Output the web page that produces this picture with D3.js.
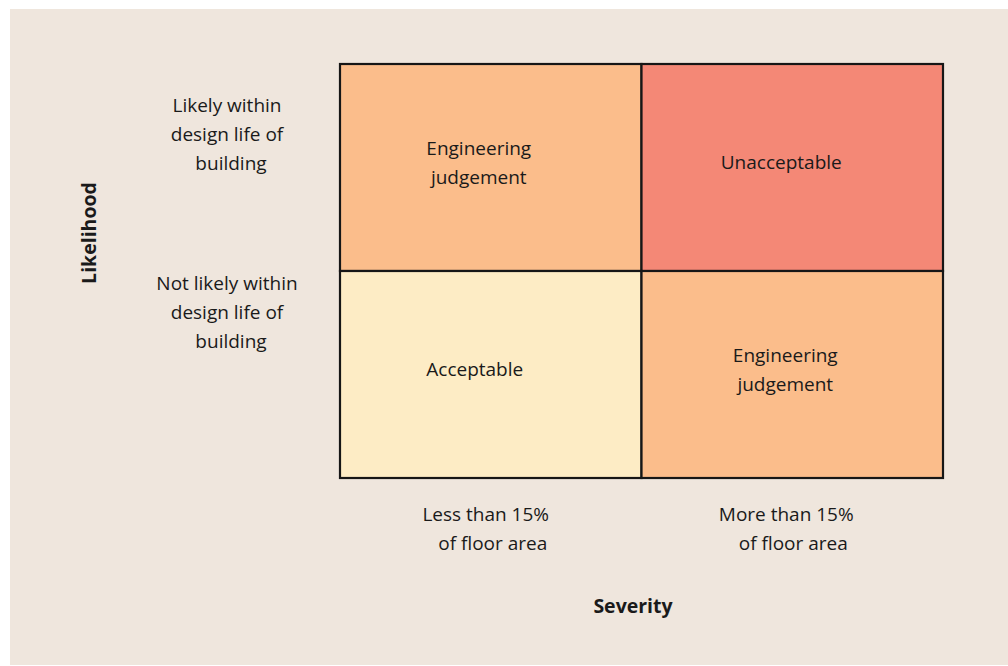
<!DOCTYPE html>
<html><head><meta charset="utf-8">
<script src="https://cdn.jsdelivr.net/npm/d3@7"></script>
<style>html,body{margin:0;padding:0;background:#fff;}svg{display:block;}</style>
</head><body>
<script>
const severity = ["Less than 15%|of floor area", "More than 15%|of floor area"];
const likelihood = ["Likely within|design life of|building", "Not likely within|design life of|building"];
const cellLabels = [
  ["Engineering|judgement", "Unacceptable"],
  ["Acceptable", "Engineering|judgement"]
];
const cellColors = [
  ["#fbbd8b", "#f48876"],
  ["#fdecc5", "#fbbd8b"]
];

const W = 1008, H = 666;
const svg = d3.select("body").append("svg").attr("width", W).attr("height", H);
const font = "'Open Sans', sans-serif";
const fs = 19;
svg.append("rect").attr("x", 10).attr("y", 9).attr("width", W - 10).attr("height", H - 10).attr("fill", "#efe6dd");

const x = d3.scaleBand().domain(severity).range([340, 943]);
const y = d3.scaleBand().domain(likelihood).range([64, 478]);

const cells = [];
likelihood.forEach((l, i) => severity.forEach((s, j) => cells.push({i, j, l, s, label: cellLabels[i][j], color: cellColors[i][j]})));

const g = svg.append("g");
g.selectAll("rect.cell").data(cells).join("rect").attr("class", "cell")
  .attr("x", d => x(d.s)).attr("y", d => y(d.l))
  .attr("width", x.bandwidth()).attr("height", y.bandwidth())
  .attr("fill", d => d.color).attr("stroke", "#161616").attr("stroke-width", 2.2);

const lh = 28.7;
function multiline(sel, text, cx, cy, lastIndent) {
  const lines = text.split("|");
  const t = sel.append("text").attr("x", cx).attr("y", cy).attr("text-anchor", "middle")
    .attr("font-family", font).attr("font-size", fs).attr("fill", "#1a1a1a");
  lines.forEach((ln, k) => {
    t.append("tspan").attr("x", cx + (k > 0 ? lastIndent * (k === lines.length - 1 ? 1 : 0) : 0))
      .attr("y", cy + (k - (lines.length - 1) / 2) * lh).attr("dy", "0.35em").text(ln);
  });
  return t;
}

const cellDx = [[-12, -11], [-16, -7]];
cells.forEach(d => {
  multiline(g, d.label, x(d.s) + x.bandwidth() / 2 + cellDx[d.i][d.j], y(d.l) + y.bandwidth() / 2 - 5, 0);
});

const likeDy = [-33, -62];
likelihood.forEach((l, i) => multiline(svg, l, 227, y(l) + y.bandwidth() / 2 + likeDy[i], 4));
severity.forEach((s, i) => multiline(svg, s, x(s) + x.bandwidth() / 2 - 5 - i, 528.5, 7));

svg.append("text").attr("x", 633).attr("y", 606).attr("dy", "0.35em").attr("text-anchor", "middle")
  .attr("font-family", font).attr("font-size", fs + 0.5).attr("font-weight", "bold").attr("fill", "#1a1a1a").text("Severity");
svg.append("text").attr("transform", "translate(89,233) rotate(-90)").attr("dy", "0.35em").attr("text-anchor", "middle")
  .attr("font-family", font).attr("font-size", fs + 0.5).attr("font-weight", "bold").attr("fill", "#1a1a1a").text("Likelihood");
</script>
</body></html>
